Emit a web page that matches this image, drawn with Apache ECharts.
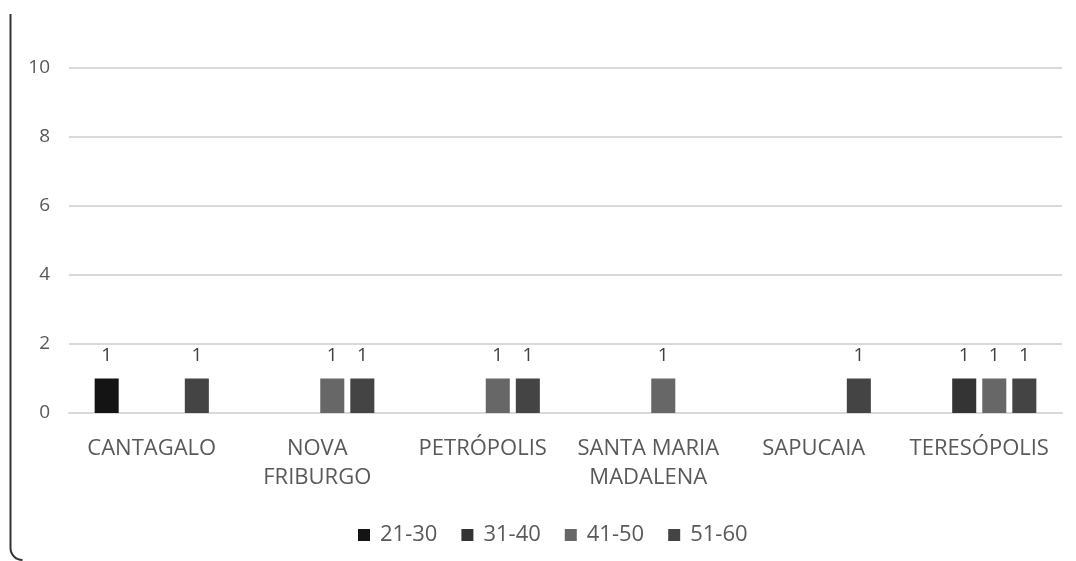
<!DOCTYPE html>
<html>
<head>
<meta charset="utf-8">
<script src="https://cdn.jsdelivr.net/npm/echarts@6/dist/echarts.min.js"></script>
<style>html,body{margin:0;padding:0;background:#fff}#c{width:1076px;height:561px}</style>
</head>
<body>
<div id="c"></div>
<script>
const categories = ['CANTAGALO', 'NOVA\nFRIBURGO', 'PETRÓPOLIS', 'SANTA MARIA\nMADALENA', 'SAPUCAIA', 'TERESÓPOLIS'];
const seriesNames = ['21-30', '31-40', '41-50', '51-60'];
const s2130 = [1, null, null, null, null, null];
const s3140 = [null, null, null, null, null, 1];
const s4150 = [null, 1, 1, 1, null, 1];
const s5160 = [1, 1, 1, null, 1, 1];
const yTicks = [0, 2, 4, 6, 8, 10];
const colors = ['#141414', '#343434', '#676767', '#444444'];

const font = '"Open Sans", "Noto Sans", sans-serif';
const chart = echarts.init(document.getElementById('c'), null, {renderer: 'canvas'});
const values = [s2130, s3140, s4150, s5160];
chart.setOption({
  animation: false,
  color: colors,
  textStyle: {fontFamily: font},
  grid: {left: 69, right: 14, top: 68, bottom: 148, containLabel: false},
  legend: {
    bottom: 10, left: 353,
    itemWidth: 12, itemHeight: 12, itemGap: 24,
    icon: 'rect',
    textStyle: {fontSize: 22, color: '#595959', fontFamily: font, padding: [0, 0, 0, 5]},
    data: seriesNames
  },
  xAxis: {
    type: 'category', data: categories,
    axisLine: {show: true, lineStyle: {color: '#d9d9d9', width: 2}},
    axisTick: {show: false},
    axisLabel: {fontSize: 22, color: '#595959', margin: 21, lineHeight: 29, interval: 0, fontFamily: font}
  },
  yAxis: {
    type: 'value', min: yTicks[0], max: yTicks[yTicks.length - 1], interval: 2,
    axisLine: {show: false}, axisTick: {show: false},
    splitLine: {lineStyle: {color: '#d9d9d9', width: 2}},
    axisLabel: {fontSize: 19, color: '#595959', margin: 19, fontFamily: font}
  },
  series: seriesNames.map((n, i) => ({
    name: n, type: 'bar', data: values[i],
    barGap: '25%', barCategoryGap: '31%',
    itemStyle: {color: colors[i]},
    label: {show: true, position: 'top', distance: 13, fontSize: 19, color: '#404040', fontFamily: font}
  })),
  graphic: [
    {type: 'line', shape: {x1: 10.5, y1: 14, x2: 10.5, y2: 548}, style: {stroke: '#333', lineWidth: 2}},
    {type: 'arc', shape: {cx: 22.5, cy: 548, r: 12, startAngle: Math.PI / 2, endAngle: Math.PI}, style: {stroke: '#333', lineWidth: 2, fill: null}}
  ]
});
</script>
</body>
</html>
